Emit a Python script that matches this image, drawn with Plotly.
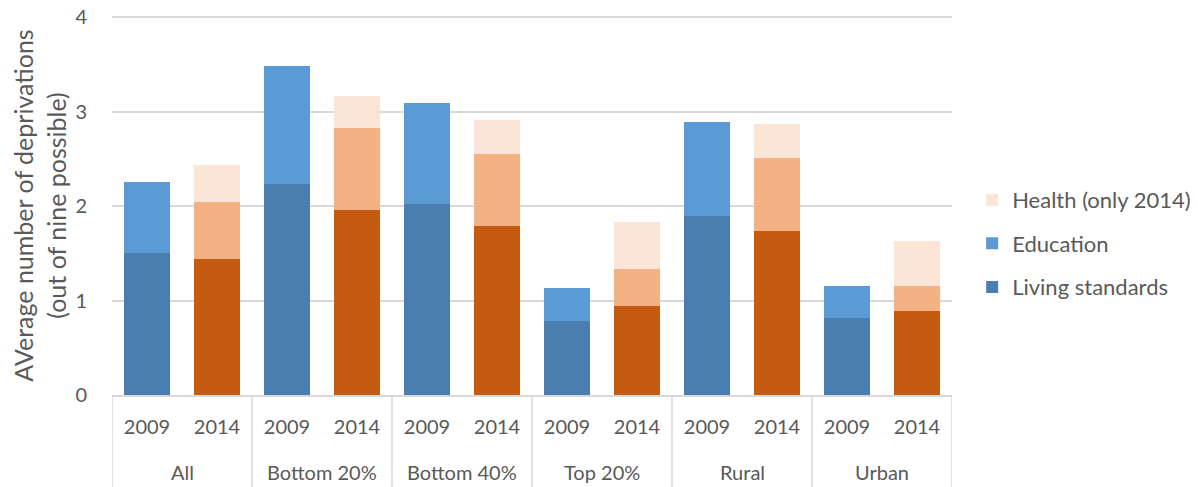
import plotly.graph_objects as go

groups = ["All", "Bottom 20%", "Bottom 40%", "Top 20%", "Rural", "Urban"]
years = ["2009", "2014"]

living_2009 = [1.50, 2.24, 2.02, 0.78, 1.90, 0.82]
education_2009 = [0.76, 1.25, 1.07, 0.35, 0.99, 0.33]
living_2014 = [1.44, 1.96, 1.79, 0.94, 1.74, 0.89]
education_2014 = [0.60, 0.87, 0.76, 0.40, 0.77, 0.26]
health_2014 = [0.40, 0.34, 0.36, 0.49, 0.36, 0.48]

c_ls = {"2009": "#4A7EB0", "2014": "#C55A11"}
c_ed = {"2009": "#5B9BD5", "2014": "#F4B183"}
c_he = "#FBE5D6"

xs, xt, ls, ed, he, cls, ced = [], [], [], [], [], [], []
for i, g in enumerate(groups):
    for j, y in enumerate(years):
        xs.append(2 * i + j)
        xt.append(y)
        if y == "2009":
            ls.append(living_2009[i]); ed.append(education_2009[i]); he.append(None)
        else:
            ls.append(living_2014[i]); ed.append(education_2014[i]); he.append(health_2014[i])
        cls.append(c_ls[y]); ced.append(c_ed[y])

fig = go.Figure()
fig.add_bar(x=xs, y=ls, name="Living standards", marker=dict(color=cls, line=dict(width=0)),
            legendrank=3, legendgroup="ls")
fig.add_bar(x=xs, y=ed, name="Education", marker=dict(color=ced, line=dict(width=0)),
            legendrank=2, legendgroup="ed")
fig.add_bar(x=xs, y=he, name="Health (only 2014)", marker=dict(color=c_he, line=dict(width=0)),
            legendrank=1, legendgroup="he")

grid = "#D9D9D9"
# group labels and dividers below the axis
for i, g in enumerate(groups):
    fig.add_annotation(x=2 * i + 0.5, xref="x", y=-0.204, yref="paper", yanchor="middle",
                       text=g, showarrow=False, font=dict(size=20, color="#595959"))
for k in range(len(groups) + 1):
    fig.add_shape(type="line", xref="x", yref="paper", x0=2 * k - 0.5, x1=2 * k - 0.5,
                  y0=0, y1=-0.25, line=dict(color=grid, width=1.5))

font = "Lato, 'Open Sans', sans-serif"
fig.update_layout(
    barmode="stack",
    bargap=0.33,
    width=1190, height=479,
    margin=dict(l=104, r=246, t=8, b=92, autoexpand=False),
    paper_bgcolor="white", plot_bgcolor="white",
    font=dict(family=font, size=20, color="#595959"),
    legend=dict(x=1.024, xanchor="left", y=0.40, yanchor="middle",
                traceorder="grouped", tracegroupgap=12,
                font=dict(size=22, color="#595959")),
    yaxis=dict(range=[0, 4.015], tickvals=[0, 1, 2, 3, 4], showgrid=True, gridcolor=grid,
               gridwidth=1.5, zeroline=False, showline=False, ticks="", ticklabelstandoff=24,
               ticklabeloverflow="allow",
               tickfont=dict(size=20), automargin=False,
               title=dict(text="AVerage number of deprivations<br>(out of nine possible)",
                          font=dict(size=25), standoff=12)),
    xaxis=dict(range=[-0.5, 11.5], tickmode="array", tickvals=xs, ticktext=xt,
               showline=True, linecolor=grid, linewidth=1.5, showgrid=False, zeroline=False,
               ticks="", tickfont=dict(size=20), ticklabelstandoff=13, automargin=False),
)
fig.write_html("out.html")
